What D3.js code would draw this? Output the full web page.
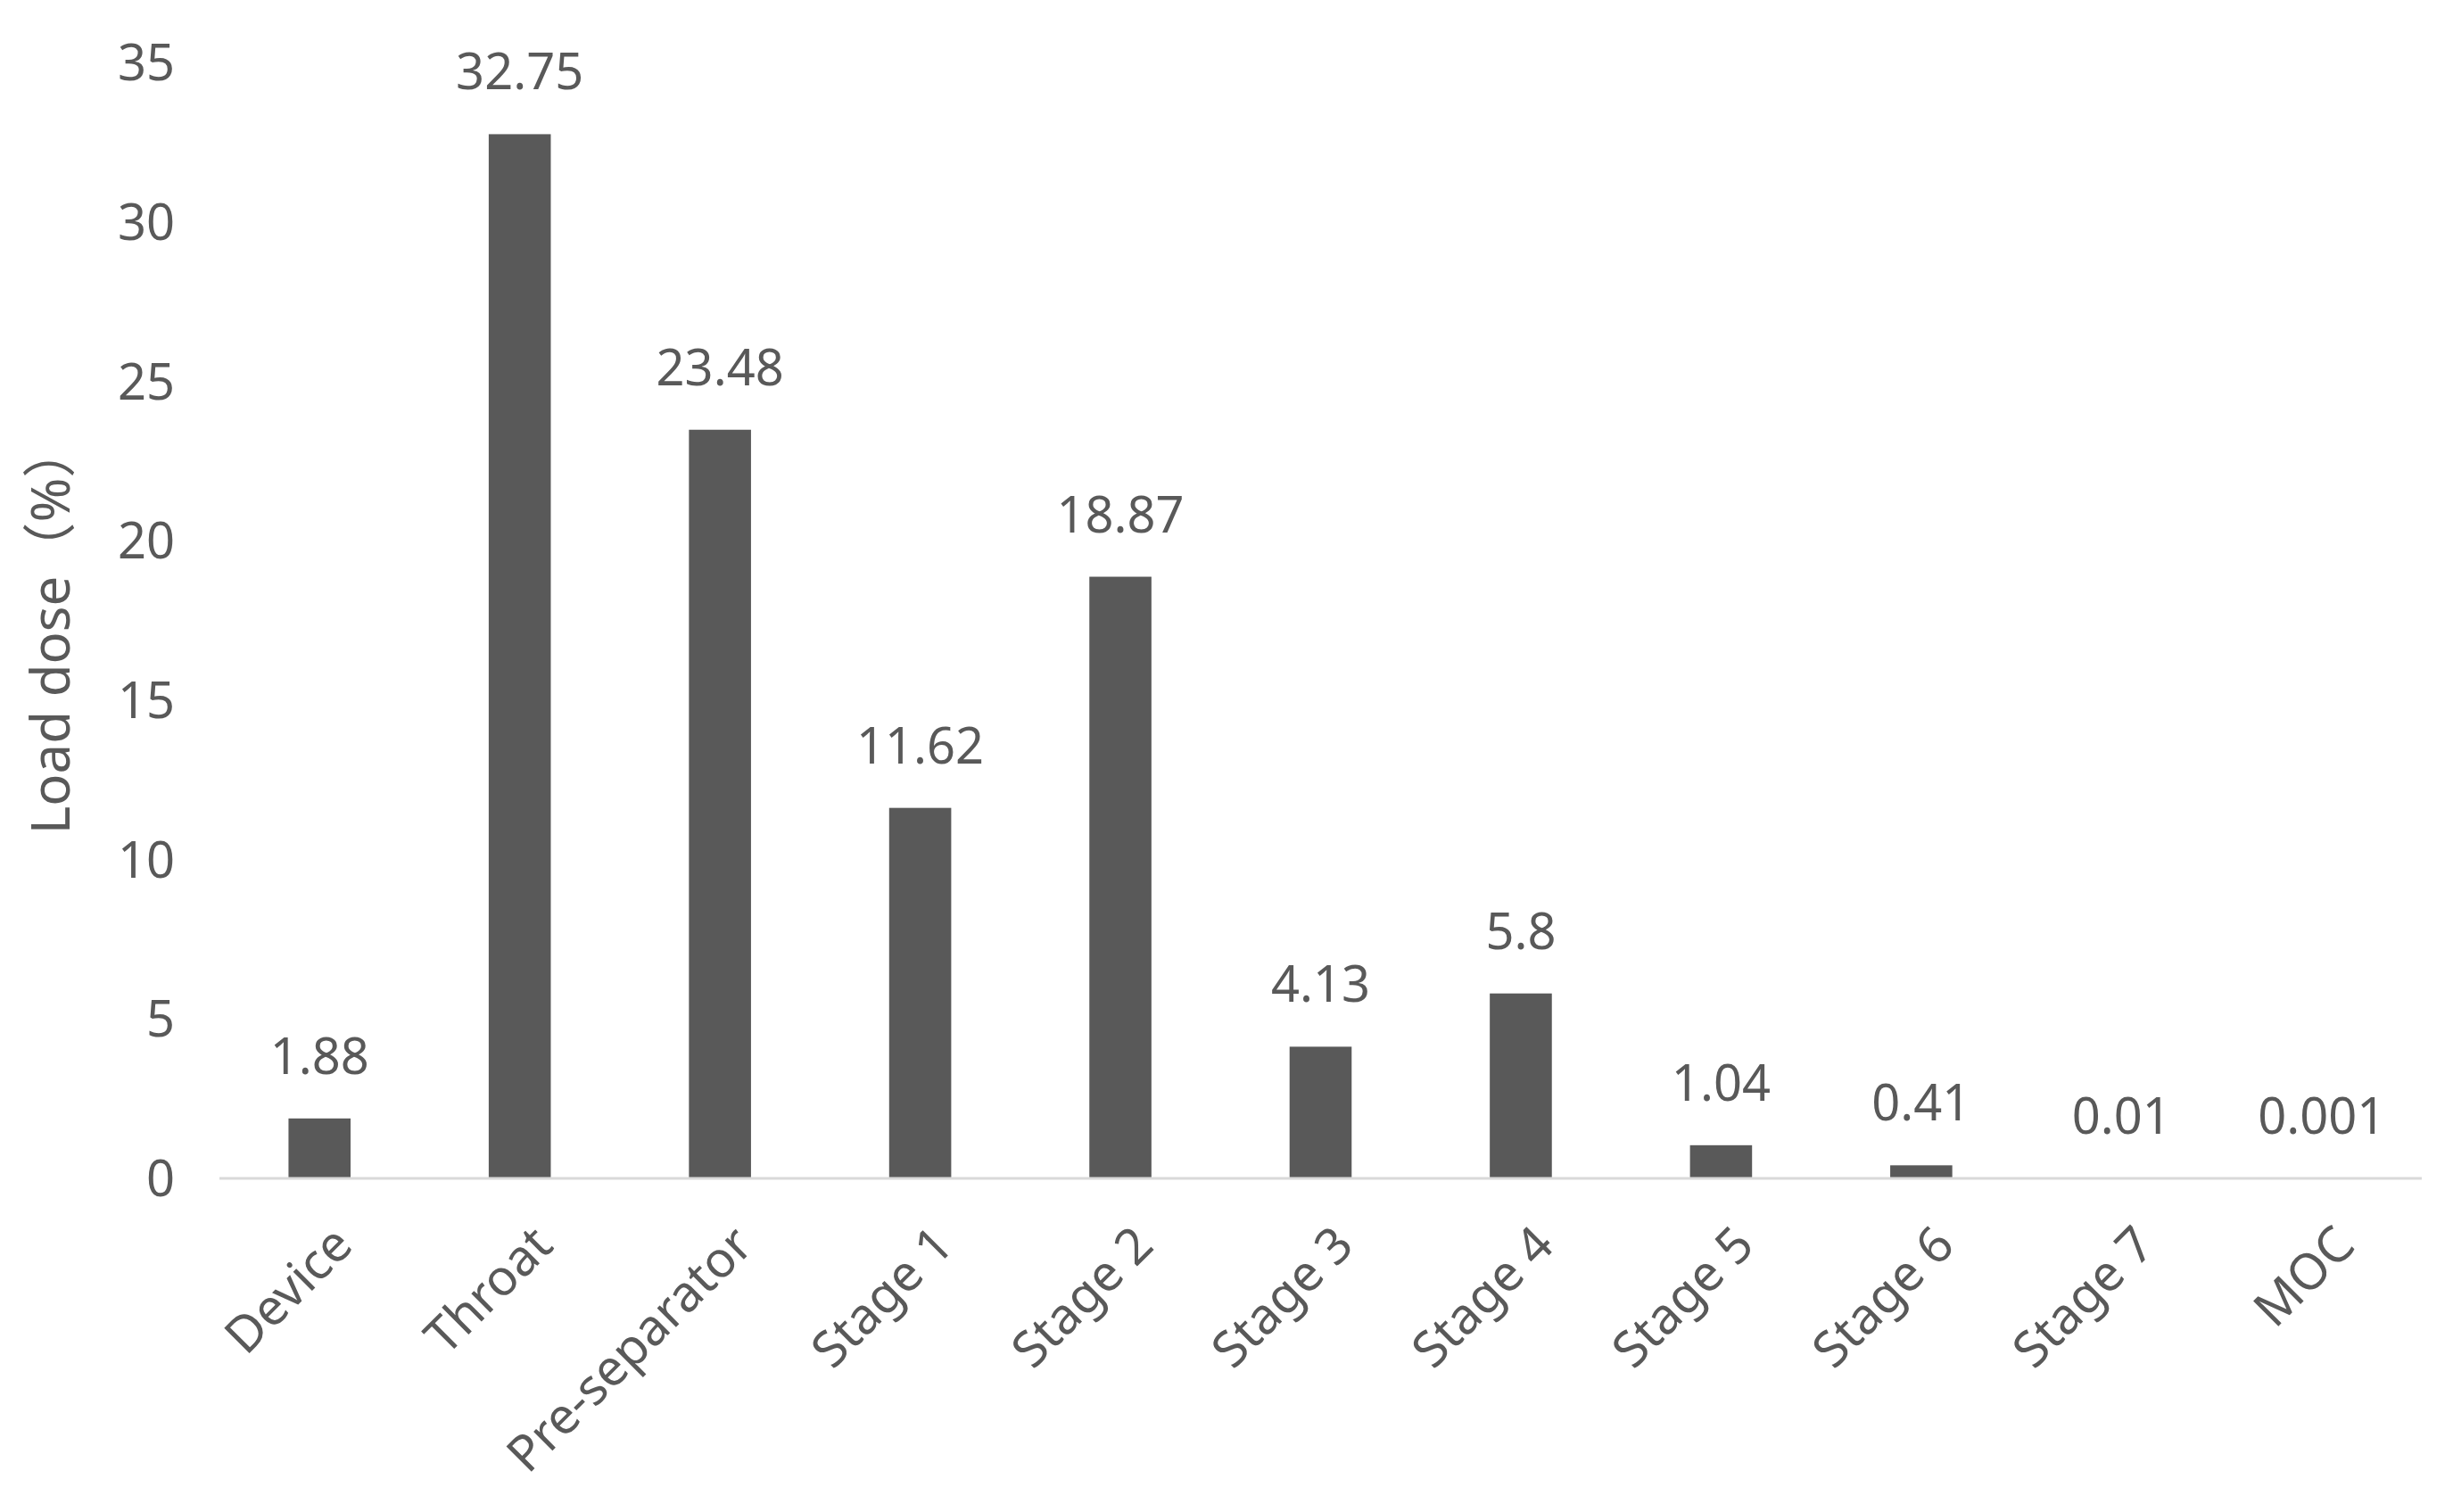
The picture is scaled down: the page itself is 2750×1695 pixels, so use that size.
<!DOCTYPE html>
<meta charset="utf-8">
<body style="margin:0;background:#fff">
<script src="https://d3js.org/d3.v7.min.js"></script>
<script>
// data
var categories = ["Device","Throat","Pre-separator","Stage 1","Stage 2","Stage 3","Stage 4","Stage 5","Stage 6","Stage 7","MOC"];
var values = [1.88, 32.75, 23.48, 11.62, 18.87, 4.13, 5.8, 1.04, 0.41, 0.01, 0.001];
var yTicks = [0,5,10,15,20,25,30,35];

var W = 2750, H = 1695;
var margin = {left: 246, right: 35, top: 70, bottom: 374};
var font = "'Noto Sans', 'Noto Sans CJK SC', sans-serif";

var svg = d3.select("body").append("svg").attr("width", W).attr("height", H);

var x = d3.scaleBand().domain(categories)
  .range([margin.left, W - margin.right]).paddingInner(0.69).paddingOuter(0.345);
var y = d3.scaleLinear().domain([0, 35]).range([H - margin.bottom, margin.top]);

// y tick labels (no axis line)
svg.append("g").selectAll("text").data(yTicks).join("text")
  .attr("x", 196).attr("y", function(d){ return y(d); })
  .attr("dy", "0.36em").attr("text-anchor", "end")
  .style("font-family", font).style("font-size", "56px").style("fill", "#595959")
  .text(function(d){ return d; });

// bars
svg.append("g").selectAll("rect").data(values).join("rect")
  .attr("x", function(d, i){ return x(categories[i]); })
  .attr("width", x.bandwidth())
  .attr("y", function(d){ return y(d); })
  .attr("height", function(d){ return y(0) - y(d); })
  .style("fill", "#595959");

// baseline
svg.append("line")
  .attr("x1", margin.left).attr("x2", W - margin.right)
  .attr("y1", y(0)).attr("y2", y(0))
  .style("stroke", "#d9d9d9").style("stroke-width", 3);

// value labels
svg.append("g").selectAll("text").data(values).join("text")
  .attr("x", function(d, i){ return x(categories[i]) + x.bandwidth() / 2; })
  .attr("y", function(d){ return y(d) - 50; })
  .attr("text-anchor", "middle")
  .style("font-family", font).style("font-size", "56px").style("fill", "#595959")
  .text(function(d){ return d; });

// category labels, rotated
svg.append("g").selectAll("text").data(categories).join("text")
  .attr("transform", function(d){
    return "translate(" + (x(d) + x.bandwidth() / 2 + 12) + "," + (y(0) + 50) + ") rotate(-45)";
  })
  .attr("text-anchor", "end").attr("dy", "0.7em")
  .style("font-family", font).style("font-size", "56px").style("fill", "#595959")
  .text(function(d){ return d; });

// y axis title
svg.append("text")
  .attr("transform", "translate(78," + ((y(0) + y(35)) / 2 + 10) + ") rotate(-90)")
  .attr("text-anchor", "middle")
  .style("font-family", font).style("font-size", "60px").style("fill", "#595959")
  .text("Load dose（%）");
</script>
</body>
